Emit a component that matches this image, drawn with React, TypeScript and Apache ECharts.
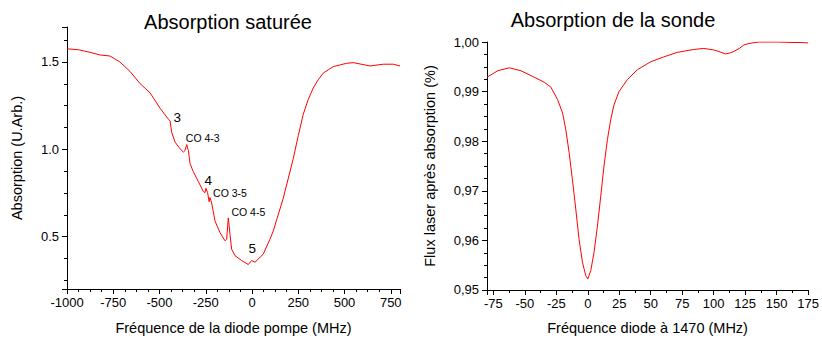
import React, { useEffect, useRef } from "react";
import * as echarts from "echarts";

// Left panel: saturated absorption vs pump diode frequency
const pumpFreq = [-1000, -939, -876, -822, -768, -714, -659, -605, -551, -497, -452, -443, -434, -416, -389, -371, -362, -353, -344, -335, -317, -290, -263, -254, -249, -240, -232, -227, -218, -200, -173, -146, -137, -128, -119, -110, -92, -56, -20, -2, 16, 61, 97, 115, 169, 223, 250, 277, 304, 331, 358, 385, 412, 439, 476, 511, 547, 638, 710, 764, 800];
const pumpAbs = [1.575, 1.570, 1.555, 1.540, 1.534, 1.500, 1.445, 1.376, 1.323, 1.235, 1.172, 1.163, 1.097, 1.041, 1.003, 0.984, 0.993, 1.027, 0.993, 0.918, 0.871, 0.815, 0.758, 0.752, 0.777, 0.752, 0.700, 0.724, 0.692, 0.589, 0.523, 0.476, 0.485, 0.607, 0.513, 0.428, 0.391, 0.363, 0.340, 0.363, 0.353, 0.400, 0.485, 0.532, 0.720, 0.946, 1.078, 1.200, 1.285, 1.351, 1.398, 1.436, 1.455, 1.473, 1.483, 1.492, 1.496, 1.477, 1.487, 1.487, 1.477];

// Peak annotations (data coordinates)
const peakLabels = ["3", "CO 4-3", "4", "CO 3-5", "CO 4-5", "5"];
const peakFreq = [-404, -266, -237, -119, -20, 2];
const peakAbs = [1.182, 1.063, 0.824, 0.749, 0.64, 0.434];
const peakIsLevel = [true, false, true, false, false, true];

// Right panel: probe flux vs frequency
const probeFreq = [-80, -71.5, -62.3, -53, -42.5, -34.6, -29.3, -24, -20, -17.4, -14.8, -12.2, -9.5, -6.9, -4.2, -1.6, 0, 2.4, 5, 7.7, 10.3, 12.9, 15.6, 18.2, 20.8, 24.8, 31.4, 39.3, 49.9, 60.4, 71, 84.2, 92.1, 100, 105, 109.3, 113, 116, 120.3, 124, 128, 136, 150, 163, 170, 175];
const probeFlux = [0.9929, 0.9942, 0.9948, 0.9942, 0.9929, 0.9919, 0.9909, 0.9884, 0.9857, 0.9823, 0.9777, 0.9723, 0.9663, 0.9602, 0.9556, 0.9529, 0.9522, 0.9539, 0.9576, 0.9629, 0.9689, 0.9750, 0.9803, 0.9843, 0.9873, 0.9900, 0.9924, 0.9944, 0.9960, 0.9970, 0.9979, 0.9985, 0.9987, 0.9984, 0.9980, 0.9976, 0.9978, 0.9981, 0.9987, 0.9994, 0.9997, 1.0000, 1.0000, 0.9999, 0.9999, 0.9998];

const FONT = "'Liberation Sans', Arial, sans-serif";
const BLACK = "#000";
const RED = "#ff0000";

const isMult = (v: number, step: number) => Math.abs(v / step - Math.round(v / step)) < 1e-6;

function minorAxis(gridIndex: number, min: number, max: number, step: number, position: string) {
  return {
    gridIndex, type: "value", min, max, minInterval: step, maxInterval: step, position,
    axisLine: { show: true, onZero: false, lineStyle: { color: BLACK, width: 1 } },
    axisTick: { show: true, length: 3, inside: false, lineStyle: { color: BLACK, width: 1 } },
    axisLabel: { show: false },
    splitLine: { show: false },
  };
}

function majorAxis(gridIndex: number, min: number, max: number, step: number, position: string, fmt: (v: number) => string, name: string, nameGap: number, isY: boolean) {
  return {
    gridIndex, type: "value", min, max, minInterval: step, maxInterval: step, position,
    axisLine: { show: false, onZero: false },
    axisTick: { show: true, length: 5, inside: false, lineStyle: { color: BLACK, width: 1 } },
    axisLabel: {
      show: true, color: BLACK, fontFamily: FONT, fontSize: 13, margin: isY ? 8 : 7,
      formatter: (v: number) => (isMult(v, step) ? fmt(v) : ""),
    },
    splitLine: { show: false },
    name, nameLocation: "middle", nameGap,
    nameRotate: isY ? 90 : 0,
    nameTextStyle: { color: BLACK, fontFamily: FONT, fontSize: 14.5 },
  };
}

export default function App() {
  const ref = useRef<HTMLDivElement>(null);
  useEffect(() => {
    if (!ref.current) return;
    const chart = echarts.init(ref.current, null, { renderer: "svg" });
    const option = {
      animation: false,
      backgroundColor: "#fff",
      grid: [
        { left: 67, right: 422, top: 27, bottom: 48 },
        { left: 487, right: 13, top: 42, bottom: 49 },
      ],
      xAxis: [
        minorAxis(0, -1000, 800, 62.5, "bottom"),
        majorAxis(0, -1000, 800, 250, "bottom", (v) => String(v), "Fréquence de la diode pompe (MHz)", 31, false),
        minorAxis(1, -80, 175, 12.5, "bottom"),
        majorAxis(1, -80, 175, 25, "bottom", (v) => String(v), "Fréquence diode à 1470 (MHz)", 30, false),
      ],
      yAxis: [
        minorAxis(0, 0.2, 1.7, 0.125, "left"),
        majorAxis(0, 0.2, 1.7, 0.5, "left", (v) => v.toFixed(1), "Absorption (U.Arb.)", 43, true),
        minorAxis(1, 0.9499999, 1.0, 0.0025, "left"),
        majorAxis(1, 0.9499999, 1.0, 0.01, "left", (v) => v.toFixed(2).replace(".", ","), "Flux laser après absorption (%)", 50, true),
      ],
      graphic: [
        { type: "text", x: 228, y: 22, style: { text: "Absorption saturée", fontFamily: FONT, fontSize: 20, fill: BLACK, align: "center", verticalAlign: "middle" } },
        { type: "text", x: 613, y: 20, style: { text: "Absorption de la sonde", fontFamily: FONT, fontSize: 20, fill: BLACK, align: "center", verticalAlign: "middle" } },
      ],
      series: [
        {
          type: "line", xAxisIndex: 0, yAxisIndex: 0, symbol: "none", showSymbol: false,
          lineStyle: { color: RED, width: 1 },
          data: pumpFreq.map((x, i) => [x, pumpAbs[i]]),
        },
        {
          type: "scatter", xAxisIndex: 0, yAxisIndex: 0, symbolSize: 1,
          itemStyle: { color: "transparent", opacity: 1 },
          silent: true,
          data: peakFreq.map((x, i) => ({
            value: [x, peakAbs[i]],
            label: {
              show: true, position: "inside", formatter: peakLabels[i], color: BLACK, fontFamily: FONT,
              fontSize: peakIsLevel[i] ? 13.5 : 10.5, opacity: 1,
              textBorderWidth: 0, textBorderColor: "transparent",
            },
          })),
        },
        {
          type: "line", xAxisIndex: 2, yAxisIndex: 2, symbol: "none", showSymbol: false,
          lineStyle: { color: RED, width: 1 },
          data: probeFreq.map((x, i) => [x, probeFlux[i]]),
        },
      ],
    };
    chart.setOption(option as any);
    return () => chart.dispose();
  }, []);
  return <div ref={ref} style={{ position: "fixed", left: 0, top: 0, width: 822, height: 340, background: "#fff" }} />;
}
